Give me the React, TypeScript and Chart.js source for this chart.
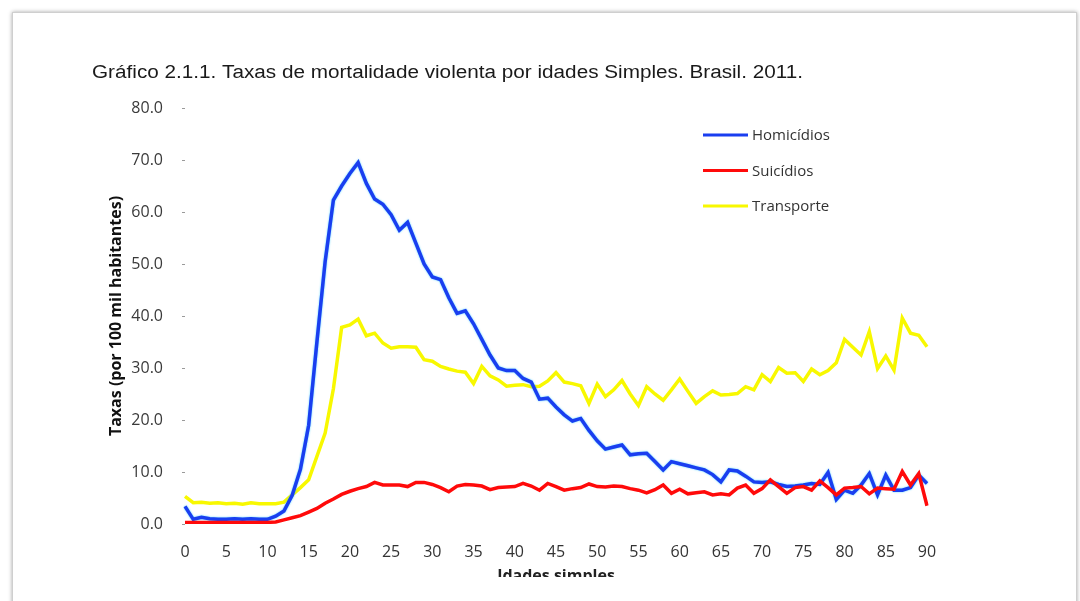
import React, { useEffect, useRef } from "react";
import { Chart, registerables } from "chart.js";

Chart.register(...registerables);

const TITLE = "Gráfico 2.1.1. Taxas de mortalidade violenta por idades Simples. Brasil. 2011.";
const Y_TITLE = "Taxas (por 100 mil habitantes)";
const X_TITLE = "Idades simples";

const AGES = [
  0, 1, 2, 3, 4, 5, 6, 7, 8, 9, 10, 11, 12, 13, 14, 15, 16, 17, 18, 19, 20,
  21, 22, 23, 24, 25, 26, 27, 28, 29, 30, 31, 32, 33, 34, 35, 36, 37, 38, 39, 40,
  41, 42, 43, 44, 45, 46, 47, 48, 49, 50, 51, 52, 53, 54, 55, 56, 57, 58, 59, 60,
  61, 62, 63, 64, 65, 66, 67, 68, 69, 70, 71, 72, 73, 74, 75, 76, 77, 78, 79, 80,
  81, 82, 83, 84, 85, 86, 87, 88, 89, 90,
];

const X_TICK_AGES = [0, 5, 10, 15, 20, 25, 30, 35, 40, 45, 50, 55, 60, 65, 70, 75, 80, 85, 90];

const HOMICIDIOS = [
  3.4, 0.9, 1.3, 1.0, 0.9, 0.9, 1.0, 0.9, 1.0, 0.9, 0.9,
  1.5, 2.5, 5.5, 10.5, 19.0, 35.0, 50.5, 62.3, 65.0, 67.4,
  69.5, 65.5, 62.5, 61.5, 59.5, 56.5, 58.0, 54.0, 50.0, 47.5,
  47.0, 43.5, 40.5, 41.0, 38.5, 35.5, 32.5, 30.0, 29.5, 29.5,
  28.0, 27.3, 24.0, 24.2, 22.5, 21.0, 19.8, 20.3, 18.0, 16.0,
  14.4, 14.8, 15.2, 13.3, 13.5, 13.6, 12.0, 10.4, 12.0, 11.6,
  11.2, 10.8, 10.4, 9.5, 8.1, 10.4, 10.2, 9.2, 8.1, 8.0,
  8.1, 7.6, 7.2, 7.3, 7.5, 7.8, 7.6, 9.9, 4.7, 6.5,
  5.9, 7.5, 9.7, 5.6, 9.4, 6.5, 6.5, 7.0, 9.4, 7.8,
];

const SUICIDIOS = [
  0.3, 0.3, 0.3, 0.3, 0.3, 0.3, 0.3, 0.3, 0.3, 0.3, 0.3,
  0.4, 0.8, 1.2, 1.6, 2.3, 3.0, 4.0, 4.8, 5.7, 6.3,
  6.8, 7.2, 8.0, 7.5, 7.5, 7.5, 7.2, 8.0, 8.0, 7.6,
  7.0, 6.2, 7.3, 7.6, 7.5, 7.3, 6.6, 7.0, 7.1, 7.2,
  7.8, 7.3, 6.5, 7.8, 7.2, 6.5, 6.8, 7.0, 7.7, 7.2,
  7.1, 7.3, 7.2, 6.8, 6.5, 6.0, 6.6, 7.5, 5.9, 6.7,
  5.8, 6.0, 6.2, 5.6, 5.8, 5.6, 6.9, 7.5, 5.9, 6.8,
  8.5, 7.2, 5.9, 7.0, 7.2, 6.5, 8.3, 7.0, 5.6, 6.9,
  7.0, 7.2, 5.8, 6.9, 6.8, 6.7, 10.1, 7.5, 9.7, 3.5,
];

const TRANSPORTE = [
  5.3, 4.1, 4.2, 4.0, 4.1, 3.9, 4.0, 3.8, 4.1, 3.9, 3.9,
  3.9, 4.2, 5.6, 7.0, 8.5, 13.0, 17.5, 26.0, 37.8, 38.3,
  39.4, 36.2, 36.7, 34.8, 33.8, 34.1, 34.1, 34.0, 31.6, 31.3,
  30.3, 29.8, 29.4, 29.2, 27.0, 30.3, 28.5, 27.7, 26.5, 26.7,
  26.8, 26.4, 26.5, 27.5, 29.1, 27.3, 27.0, 26.6, 23.2, 26.9,
  24.5, 25.8, 27.6, 25.0, 22.8, 26.4, 25.0, 23.8, 25.8, 27.9,
  25.5, 23.2, 24.5, 25.6, 24.8, 24.9, 25.1, 26.4, 25.8, 28.7,
  27.4, 30.1, 29.0, 29.1, 27.4, 29.8, 28.7, 29.5, 31.0, 35.5,
  34.0, 32.5, 37.0, 29.9, 32.3, 29.6, 39.6, 36.7, 36.3, 34.1,
];

const SERIES_LABELS = ["Homicídios", "Suicídios", "Transporte"];
const SERIES_COLORS = ["#1a3ef0", "#ff0a0a", "#f8f800"];

const Y_MIN = 0;
const Y_MAX = 80;
const Y_STEP = 10;

const titlePlugin = {
  id: "customTitle",
  afterDraw(chart: any) {
    const ctx = chart.ctx;
    ctx.save();
    ctx.font = '18px "Liberation Sans", Arial, sans-serif';
    ctx.fillStyle = "#1a1a1a";
    ctx.textBaseline = "middle";
    ctx.textAlign = "left";
    const w = ctx.measureText(TITLE).width;
    const target = 711;
    ctx.translate(92, 73);
    ctx.scale(target / w, 1);
    ctx.fillText(TITLE, 0, 0);
    ctx.restore();
  },
};

const legendPlugin = {
  id: "customLegend",
  afterDraw(chart: any) {
    const ctx = chart.ctx;
    ctx.save();
    chart.data.datasets.forEach((ds: any, i: number) => {
      const y = 135 + i * 35.5;
      ctx.strokeStyle = ds.borderColor;
      ctx.lineWidth = 3;
      ctx.beginPath();
      ctx.moveTo(703, y);
      ctx.lineTo(748, y);
      ctx.stroke();
      ctx.font = '15px "Open Sans", sans-serif';
      ctx.fillStyle = "#333";
      ctx.textBaseline = "middle";
      ctx.textAlign = "left";
      ctx.fillText(ds.label, 752, y + 1);
    });
    ctx.restore();
  },
};

const glowPlugin = {
  id: "glow",
  beforeDatasetDraw(chart: any, args: any) {
    const ctx = chart.ctx;
    ctx.save();
    if (args.index === 0) {
      ctx.shadowColor = "rgba(40,200,255,0.8)";
      ctx.shadowBlur = 2;
    }
  },
  afterDatasetDraw(chart: any) {
    chart.ctx.restore();
  },
};

export default function App() {
  const canvasRef = useRef<HTMLCanvasElement | null>(null);

  useEffect(() => {
    if (!canvasRef.current) return;
    const chart = new Chart(canvasRef.current, {
      type: "line",
      data: {
        labels: AGES.map(String),
        datasets: [
          {
            label: SERIES_LABELS[0],
            data: HOMICIDIOS,
            borderColor: SERIES_COLORS[0],
            backgroundColor: SERIES_COLORS[0],
            borderWidth: 3.5,
            pointRadius: 0,
            tension: 0,
            order: 1,
          },
          {
            label: SERIES_LABELS[1],
            data: SUICIDIOS,
            borderColor: SERIES_COLORS[1],
            backgroundColor: SERIES_COLORS[1],
            borderWidth: 3.5,
            pointRadius: 0,
            tension: 0,
            order: 0,
          },
          {
            label: SERIES_LABELS[2],
            data: TRANSPORTE,
            borderColor: SERIES_COLORS[2],
            backgroundColor: SERIES_COLORS[2],
            borderWidth: 3.5,
            pointRadius: 0,
            tension: 0,
            order: 2,
          },
        ],
      },
      options: {
        animation: false,
        responsive: false,
        maintainAspectRatio: false,
        layout: { padding: { left: 100, right: 153, top: 108, bottom: 11 } },
        plugins: {
          legend: { display: false },
          title: { display: false },
          tooltip: { enabled: false },
        },
        scales: {
          x: {
            type: "category",
            offset: false,
            grid: { display: false },
            border: { display: false },
            ticks: {
              autoSkip: false,
              maxRotation: 0,
              minRotation: 0,
              padding: 11,
              color: "#333",
              font: { family: '"Open Sans", sans-serif', size: 16 },
              callback: (_v: any, i: number) =>
                X_TICK_AGES.includes(AGES[i]) ? String(AGES[i]) : "",
            },
            title: {
              display: true,
              text: X_TITLE,
              color: "#222",
              font: { family: '"Open Sans", sans-serif', size: 16, weight: "bold" },
              padding: { top: 0, bottom: 3.6 },
            },
            afterFit: (scale: any) => {
              scale.height = 66;
            },
          },
          y: {
            min: Y_MIN,
            max: Y_MAX,
            border: { display: false },
            grid: {
              drawOnChartArea: false,
              drawTicks: true,
              tickLength: 3,
              color: "#9a9a9a",
            },
            ticks: {
              stepSize: Y_STEP,
              padding: 19,
              color: "#3a3a3a",
              font: { family: '"Open Sans", sans-serif', size: 16 },
              callback: (v: any) => Number(v).toFixed(1),
            },
            title: {
              display: true,
              text: Y_TITLE,
              color: "#111",
              font: { family: '"Open Sans", sans-serif', size: 16, weight: "bold" },
              padding: { top: 6.4, bottom: 0 },
            },
            afterFit: (scale: any) => {
              scale.width = 85;
            },
          },
        },
      },
      plugins: [titlePlugin, legendPlugin, glowPlugin],
    });
    return () => chart.destroy();
  }, []);

  return (
    <div
      style={{
        position: "fixed",
        left: 0,
        top: 0,
        width: 1080,
        height: 601,
        background: "#fff",
        overflow: "hidden",
      }}
    >
      <canvas
        ref={canvasRef}
        width={1080}
        height={601}
        style={{ position: "absolute", left: 0, top: 0, width: 1080, height: 601 }}
      />
      <div
        style={{
          position: "absolute",
          left: 14,
          top: 577,
          width: 1060,
          height: 30,
          background: "#fff",
        }}
      />
      <div
        style={{
          position: "absolute",
          left: 12,
          top: 12,
          width: 1063,
          height: 620,
          border: "1px solid #cfcfcf",
          boxShadow: "0 0 4px rgba(0,0,0,0.35)",
          pointerEvents: "none",
        }}
      />
    </div>
  );
}
